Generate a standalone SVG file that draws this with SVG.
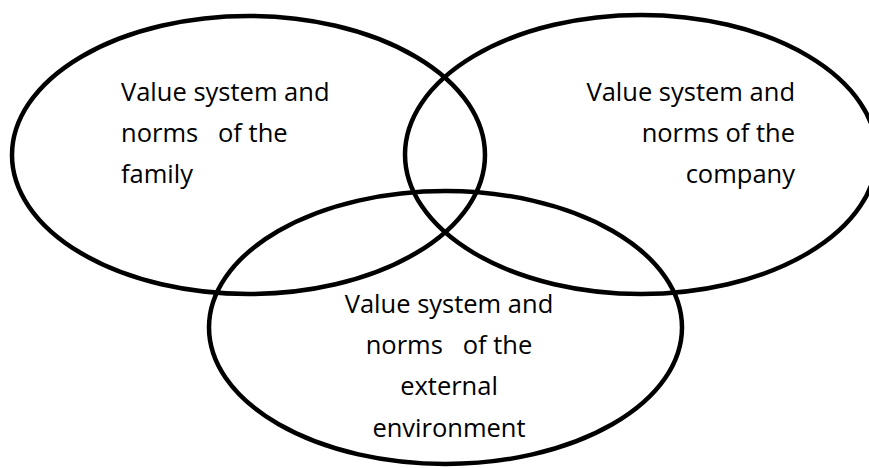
<svg xmlns="http://www.w3.org/2000/svg" width="869" height="468" viewBox="0 0 869 468">
<style>
.ring{fill:none;stroke:#000;stroke-width:4.5}
.lbl{font-family:"Open Sans","Liberation Sans",sans-serif;font-size:25.5px;fill:#000;white-space:pre}
</style>
<rect width="869" height="468" fill="#fff"/>
<g id="family">
<ellipse class="ring" cx="248.5" cy="155" rx="236.5" ry="139"/>
<text class="lbl" xml:space="preserve"><tspan x="121" y="101">Value system and</tspan><tspan x="121" y="142">norms   of the</tspan><tspan x="121" y="183">family</tspan></text>
</g>
<g id="company">
<ellipse class="ring" cx="641" cy="154.5" rx="236" ry="139.5"/>
<text class="lbl" text-anchor="end"><tspan x="795" y="101">Value system and</tspan><tspan x="795" y="142">norms of the</tspan><tspan x="795" y="183">company</tspan></text>
</g>
<g id="environment">
<ellipse class="ring" cx="445.5" cy="327.5" rx="236.5" ry="136.5"/>
<text class="lbl" text-anchor="middle" xml:space="preserve"><tspan x="449" y="313">Value system and</tspan><tspan x="449" y="354">norms   of the</tspan><tspan x="449" y="395">external</tspan><tspan x="449" y="437">environment</tspan></text>
</g>
<g id="connectors"></g>
</svg>
